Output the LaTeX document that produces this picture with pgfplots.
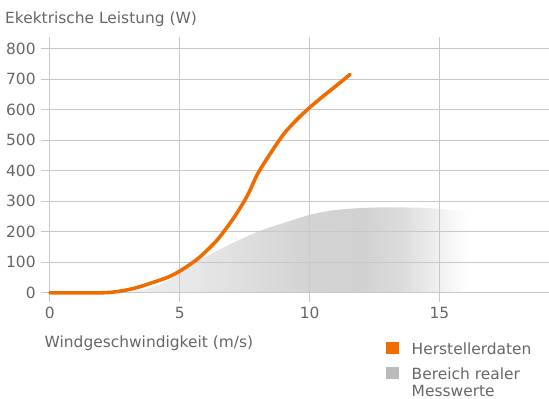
\documentclass[border=0pt]{standalone}
\usepackage{fontspec}
\setmainfont{DejaVu Sans}
\usepackage{pgfplots}
\pgfplotsset{compat=1.18}

\definecolor{orng}{HTML}{EE6C00}
\definecolor{txt}{HTML}{666666}
\definecolor{gridc}{HTML}{C8C8C8}
\definecolor{areagray}{HTML}{BBBBBB}

% grey band: light on the left, darkest around 10-12 m/s, fading to white
\pgfdeclarehorizontalshading{messbereich}{100bp}{%
  rgb(0bp)=(0.94,0.94,0.94); rgb(25bp)=(0.94,0.94,0.94);
  rgb(34bp)=(0.915,0.915,0.915); rgb(41bp)=(0.88,0.88,0.88);
  rgb(50bp)=(0.83,0.83,0.83); rgb(58bp)=(0.82,0.82,0.82);
  rgb(63bp)=(0.86,0.86,0.86); rgb(68bp)=(0.94,0.94,0.94);
  rgb(72bp)=(1,1,1); rgb(100bp)=(1,1,1)}

\begin{document}
\begin{tikzpicture}
\fontsize{15.5bp}{18bp}\selectfont
\begin{axis}[
    at={(0,0)}, anchor=south west,
    scale only axis,
    width=500.7bp, height=257.3bp,
    xmin=0, xmax=19.2,
    ymin=0, ymax=840,
    xtick={0,5,10,15},
    ytick={0,100,...,800},
    tick pos=left,
    grid=major,
    grid style={gridc, line width=0.9bp},
    axis line style={draw=none},
    tick align=outside,
    major tick length=9bp,
    tick style={gridc, line width=0.9bp},
    ticklabel style={text=txt},
    /pgf/number format/assume math mode=true,
    xlabel={Windgeschwindigkeit (m/s)},
    ylabel={Ekektrische Leistung (W)},
    every axis x label/.style={at={(rel axis cs:0,0)}, anchor=base west,
        xshift=-10.6bp, yshift=-54.5bp, text=txt},
    every axis y label/.style={at={(rel axis cs:0,1)}, anchor=base west,
        xshift=-50.3bp, yshift=13.4bp, text=txt},
    clip=false,
    set layers,
    legend style={draw=none, fill=none, at={(0.6745,-0.192)}, anchor=north west,
        inner sep=0pt, nodes={inner sep=0pt}, cells={anchor=base west},
        column sep=13bp, row sep=10.4bp, text=txt},
]

% Bereich realer Messwerte
\addplot[forget plot, on layer=axis background, draw=none, shade, shading=messbereich, smooth]
coordinates {
    (2.4,0) (3.5,8) (4.5,38) (5.43,93) (6.0,118) (6.96,160) (8.11,204)
    (9.26,236) (10.02,256) (10.85,270) (11.8,277) (12.83,280) (13.8,279.5)
    (14.74,277) (16.03,266) (17,250)
} \closedcycle;

% Herstellerdaten
\addplot[forget plot, orng, line width=3.6bp, line cap=round, smooth]
coordinates {
    (0,0) (1,0) (2,0) (2.6,4) (3.26,15) (3.9,32) (4.54,51) (4.98,70)
    (5.43,95) (5.81,120) (6.45,174) (7.09,247) (7.6,318) (8,390)
    (8.5,458) (9,520) (9.5,567) (10,607) (10.5,643) (11,677) (11.56,716)
};

\addlegendimage{legend image code/.code={\fill[orng] (0bp,1bp) rectangle (12bp,12bp);}}
\addlegendentry{Herstellerdaten}
\addlegendimage{legend image code/.code={\fill[areagray] (0bp,1bp) rectangle (12bp,12bp);}}
\addlegendentry{\begin{tabular}[t]{@{}l@{}}Bereich realer\\[-1.5bp]Messwerte\end{tabular}}
\end{axis}
\useasboundingbox (-48.3bp,-106bp) rectangle (500.7bp,294bp);
\end{tikzpicture}
\end{document}
